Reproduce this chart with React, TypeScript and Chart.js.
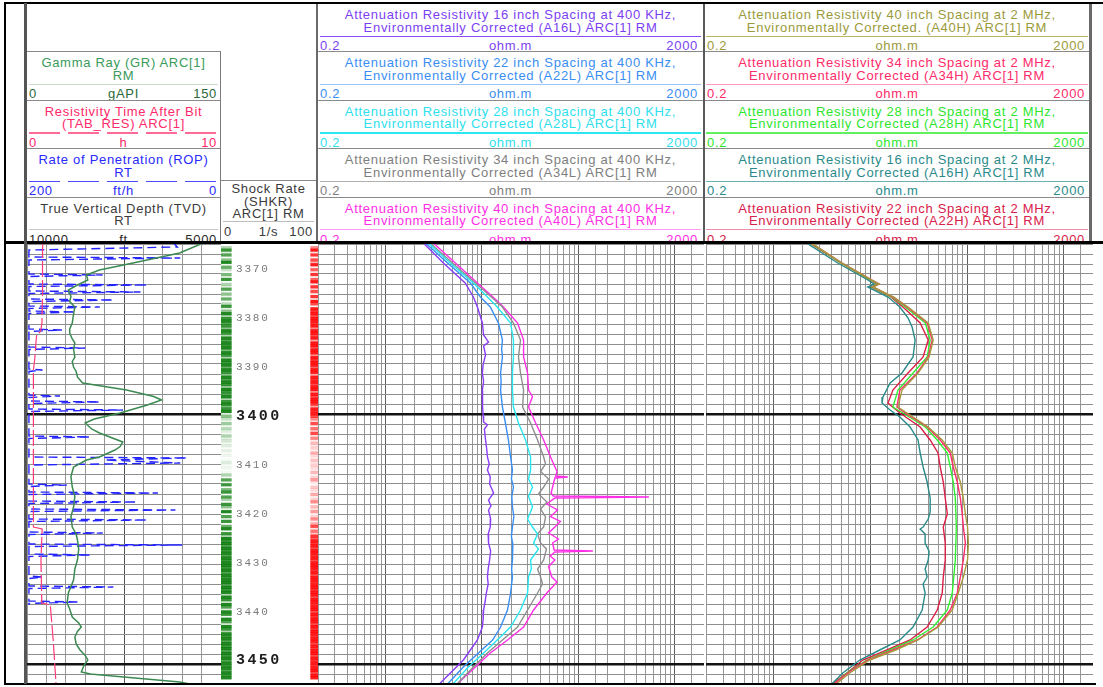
import React, { useEffect, useRef } from "react";
import { Chart, registerables } from "chart.js";
Chart.register(...registerables);

type P = [number, number];

const DEPTH_TOP = 3366;
const DEPTH_BOTTOM = 3454;
const DATA_TOP = 244;
const DATA_HEIGHT = 440;
const SANS = '"Liberation Sans", Arial, sans-serif';

// ---------- depth labels ----------
const depthLabels = [3370, 3380, 3390, 3400, 3410, 3420, 3430, 3440, 3450];

// ---------- Track 1 ----------
const gammaRay: P[] = [
  [3365.6, 138], [3367.8, 118], [3369.8, 82], [3371.2, 56], [3372.2, 46], [3373.2, 47], [3374.2, 39],
  [3375.2, 32], [3376.5, 34], [3377.5, 33], [3378.6, 37], [3380, 36], [3381.8, 35], [3383, 33],
  [3383.8, 33], [3385, 35], [3385.8, 37], [3387, 36], [3388.6, 37], [3389.5, 35], [3390.6, 36],
  [3391.5, 38], [3392.6, 39], [3393.8, 43], [3395.2, 77], [3396.5, 98], [3397.2, 104], [3398.2, 93],
  [3399.8, 72], [3401, 52], [3401.8, 45], [3403, 50], [3403.8, 56], [3405.6, 74], [3406.5, 72],
  [3407.2, 68], [3408.6, 56], [3409.2, 46], [3410.6, 36], [3412.5, 34], [3414.6, 35], [3416.5, 37],
  [3418.6, 36], [3420.5, 34], [3422.6, 35], [3424, 38], [3425.2, 39], [3427, 40], [3429.2, 39],
  [3431, 37], [3433.2, 36], [3435.8, 32], [3437.8, 31], [3439, 33], [3440.6, 35], [3441.8, 40],
  [3442.6, 42], [3443.5, 39], [3444.6, 37], [3446, 38], [3447.2, 41], [3448.3, 45], [3449.2, 47],
  [3450.3, 44], [3451.6, 42], [3452, 49], [3453.6, 118], [3454.2, 130],
];

const tabRes: P[] = [
  [3365.6, 0.82], [3367.2, 0.8], [3376, 0.8], [3381.8, 0.77], [3383.5, 0.7], [3384.2, 0.5],
  [3386.2, 0.45], [3389, 0.4], [3391.2, 0.33], [3410, 0.33], [3422.6, 0.33], [3423, 0.78],
  [3429.2, 0.72], [3437.2, 0.76], [3437.8, 0.76], [3438.2, 1.2], [3445.2, 1.35], [3454.2, 1.5],
];

const rop: P[] = [
  [3365.6, 50], [3366.6, 45], [3367.2, 198], [3368.6, 198], [3368.8, 42], [3369.2, 198],
  [3372.0, 198], [3372.2, 122], [3372.5, 198], [3374.0, 198], [3374.2, 76], [3374.5, 198],
  [3375.4, 198], [3375.6, 83], [3375.9, 198], [3377.0, 198], [3377.2, 111], [3377.5, 198],
  [3378.4, 198], [3378.6, 125], [3378.9, 198], [3379.4, 198], [3379.6, 150], [3379.9, 198],
  [3383.0, 198], [3383.2, 164], [3383.5, 198], [3386.6, 198], [3386.8, 140], [3387.1, 198],
  [3391.0, 198], [3391.2, 184], [3391.5, 198], [3396.2, 198], [3396.4, 166], [3396.7, 198],
  [3397.4, 198], [3397.6, 125], [3397.9, 198], [3399.0, 198], [3399.2, 101], [3399.5, 198],
  [3404.4, 198], [3404.6, 135], [3404.9, 198], [3408.6, 198], [3408.8, 35], [3409.2, 120],
  [3409.8, 42], [3410.2, 198], [3414.0, 198], [3414.2, 159], [3414.5, 198], [3415.6, 198],
  [3415.8, 65], [3416.1, 198], [3417.4, 198], [3417.6, 87], [3417.9, 198], [3419.0, 198],
  [3419.2, 47], [3419.5, 198], [3421.0, 198], [3421.2, 76], [3421.5, 198], [3423.6, 198],
  [3423.8, 122], [3424.1, 198], [3426.0, 198], [3426.2, 40], [3426.5, 198], [3428.0, 198],
  [3428.2, 135], [3428.5, 198], [3432.4, 198], [3432.6, 184], [3432.9, 198], [3434.4, 198],
  [3434.6, 111], [3434.9, 198], [3437.4, 198], [3437.6, 148], [3437.9, 198], [3438.2, 198],
];

// ---------- image strips (0.5 ft samples from 3365.75) ----------
const stripTop = 3365.75;
const shockRate = [
  60, 90, 40, 85, 20, 70, 95, 30, 80, 50, 20, 75, 35, 90, 15, 60, 40, 85, 25, 70,
  30, 80, 20, 55, 90, 35, 70, 95, 60, 90, 95, 85, 90, 70, 95, 90, 60, 95, 85, 95,
  90, 95, 75, 95, 90, 60, 95, 90, 95, 80, 95, 90, 70, 95, 85, 95, 90, 65, 95, 90,
  85, 95, 60, 90, 95, 75, 90, 95, 40, 70, 50, 30, 65, 25, 55, 40, 20, 60, 35, 45,
  25, 40, 15, 35, 20, 30, 10, 25, 40, 20, 30, 15, 25, 60, 20, 85, 30, 90, 20, 75,
  90, 25, 85, 60, 20, 90, 70, 30, 95, 25, 85, 40, 90, 20, 80, 95, 30, 90, 60, 95,
  90, 95, 85, 95, 90, 95, 85, 95, 90, 95, 95, 90, 95, 85, 95, 90, 95, 95, 85, 95,
  90, 95, 60, 95, 90, 50, 95, 85, 40, 95, 90, 30, 95, 85, 45, 95, 90, 60, 95, 90,
  95, 85, 95, 90, 95, 85, 95, 90, 95, 85, 95, 90, 95, 85, 95, 90, 95,
];
const redStrip = [
  70, 95, 40, 90, 20, 85, 60, 95, 30, 80, 40, 90, 25, 80, 95, 35, 90, 50, 85, 30,
  90, 40, 95, 85, 30, 95, 90, 95, 85, 95, 95, 90, 95, 70, 95, 95, 85, 95, 60, 95,
  95, 85, 95, 95, 70, 95, 90, 95, 95, 80, 95, 95, 60, 95, 90, 95, 85, 95, 95, 70,
  95, 85, 95, 95, 90, 60, 95, 90, 95, 85, 70, 45, 85, 30, 75, 50, 85, 40, 70, 30,
  55, 35, 45, 25, 60, 40, 30, 50, 35, 45, 40, 30, 55, 25, 45, 65, 35, 20, 50, 40,
  30, 60, 25, 45, 70, 20, 55, 35, 65, 25, 45, 70, 30, 60, 85, 40, 75, 50, 90, 80,
  95, 90, 95, 85, 95, 95, 90, 95, 85, 95, 95, 95, 90, 95, 85, 95, 95, 90, 95, 95,
  90, 95, 95, 85, 95, 95, 90, 95, 95, 85, 95, 90, 95, 95, 85, 95, 90, 95, 95, 90,
  95, 95, 85, 95, 90, 95, 95, 85, 95, 90, 95, 90, 95, 95, 85, 95, 95,
];

// ---------- Track 3 (400 kHz) ----------
const a16L: P[] = [
  [3365.8, 2.47], [3369.8, 3.98], [3373.8, 6.7], [3376.6, 8.15], [3378.6, 8.97], [3381.8, 10.1],
  [3384.2, 10.4], [3385.6, 11.7], [3386.4, 10.4], [3388.2, 10.9], [3390, 10.3], [3391.8, 10.1],
  [3393.5, 10.4], [3395.2, 10.1], [3397, 10.2], [3398.6, 10.1], [3400.4, 10.3], [3401.6, 10.4],
  [3402.2, 11.4], [3403, 10.6], [3405.2, 10.9], [3407, 11.2], [3408.6, 11.4], [3410, 11.9],
  [3411.2, 11.4], [3412.6, 12.2], [3414, 12.0], [3415.8, 13.2], [3417.2, 11.7], [3418.4, 12.4],
  [3419.2, 11.7], [3421, 12.3], [3422.6, 12.2], [3424, 11.6], [3425.8, 11.7], [3427.4, 12.3],
  [3429.2, 12.0], [3431, 11.6], [3432.6, 11.4], [3434, 11.6], [3435.8, 11.1], [3437.5, 10.8],
  [3439.2, 10.4], [3441, 10.3], [3442.6, 10.1], [3445.2, 8.97], [3447.2, 7.59], [3449.2, 6.42],
  [3451.2, 5.06], [3453.2, 3.98], [3454.2, 3.53],
];
const a22L: P[] = [
  [3365.8, 2.6], [3369.8, 4.4], [3373.8, 7.59], [3376.6, 9.64], [3378.6, 12.2], [3381.8, 14.8],
  [3385.2, 16.3], [3387, 16.0], [3388.6, 16.3], [3391.8, 15.6], [3393.5, 15.8], [3395.2, 15.6],
  [3398.6, 16.3], [3401.8, 17.5], [3405.2, 18.8], [3408.6, 19.8], [3411.2, 20.7], [3413, 20.2],
  [3414.6, 21.2], [3416.5, 20.4], [3418.6, 20.7], [3420.5, 21.4], [3422.6, 20.7], [3424.5, 20.2],
  [3426, 20.9], [3429.2, 20.7], [3431, 20.3], [3432.6, 20.7], [3435.8, 19.8], [3439.2, 18.4],
  [3442.6, 15.6], [3445.2, 12.9], [3447.8, 9.19], [3450.6, 6.42], [3454.2, 4.3],
];
const a28L: P[] = [
  [3365.8, 2.78], [3369.8, 4.7], [3373.8, 8.15], [3376.6, 11.4], [3378.6, 14.4], [3381.8, 19.8],
  [3385.2, 21.2], [3388.6, 21.2], [3391.8, 20.7], [3395.2, 20.7], [3398.6, 21.2], [3401.8, 23.9],
  [3405.2, 28.3], [3408.6, 31.9], [3411.2, 31.9], [3413, 30.4], [3414.6, 33.4], [3416.5, 30.4],
  [3418.6, 33.4], [3421, 29.7], [3422.6, 33.4], [3424, 37.7], [3425.8, 34.3], [3427, 38.6],
  [3429.2, 31.9], [3431, 32.5], [3432.6, 30.4], [3435.8, 29.7], [3439.2, 25.1], [3442.6, 19.8],
  [3445.2, 14.4], [3447.8, 10.4], [3450.6, 7.23], [3454.2, 4.9],
];
const a34L: P[] = [
  [3365.8, 2.9], [3369.8, 4.95], [3373.8, 8.55], [3376.6, 12.5], [3378.6, 16.3], [3381.8, 21.2],
  [3385.2, 25.1], [3388.6, 23.9], [3391.8, 25.1], [3395.2, 27], [3398.6, 26.4], [3401.8, 31.9],
  [3405.2, 37.7], [3408.6, 43.6], [3410, 45.6], [3411.5, 40.5], [3413, 49.1], [3414.6, 43.6],
  [3416, 38.6], [3417.6, 47.2], [3419, 40.5], [3420.6, 45.6], [3422.6, 43.6], [3424, 37.7],
  [3425.8, 40.5], [3427, 46.6], [3429.2, 43.6], [3431, 37.7], [3432.6, 40.5], [3434, 42.4],
  [3435.8, 37.7], [3439.2, 29.7], [3442.6, 23.4], [3445.2, 16.3], [3447.8, 11.4], [3450.6, 8.15],
  [3454.2, 5.4],
];
const a40L: P[] = [
  [3365.8, 3.13], [3369.8, 5.3], [3373.8, 8.97], [3376.6, 13], [3378.6, 16.7], [3381.8, 23.4],
  [3385.2, 27], [3388.6, 27], [3391.8, 29.7], [3395.2, 30.4], [3396.5, 33.4], [3398.6, 30.4],
  [3401.8, 36], [3405.2, 43.6], [3408.6, 51.4], [3410, 55.3], [3411.5, 60], [3412.4, 58],
  [3412.6, 77.5], [3412.8, 57], [3414.6, 54], [3415.8, 52], [3416.4, 55], [3416.6, 537],
  [3416.8, 57], [3418, 47], [3419.2, 60.6], [3420.5, 51.4], [3421.5, 65], [3422.6, 57],
  [3423.8, 49], [3425, 62], [3425.8, 54], [3427.2, 56], [3427.4, 141], [3427.6, 57], [3428.4, 51],
  [3429.2, 57], [3430.5, 49], [3432.6, 53], [3433.6, 60], [3435.8, 47], [3439.2, 34.3],
  [3442.6, 27], [3445.2, 18.4], [3447.8, 12.2], [3450.6, 8.55], [3454.2, 5.4],
];

// ---------- Track 4 (2 MHz) ----------
const a16H: P[] = [
  [3365.8, 2.19], [3369.8, 4.6], [3373.2, 9.4], [3374, 10.9], [3374.6, 9.4], [3376.6, 15.2],
  [3378.6, 20.2], [3380.8, 24.5], [3382.6, 27], [3385.2, 29], [3388.6, 27.6], [3391.8, 21.2],
  [3393.8, 16], [3396.6, 13.5], [3397.8, 13.2], [3399.2, 16], [3400.6, 20.2], [3402.6, 25.7],
  [3405.2, 31.1], [3407.8, 32.7], [3410.6, 35.1], [3413.6, 38.6], [3416.8, 41.5], [3419.6, 41.5],
  [3421, 39.6], [3422.6, 35.1], [3423, 32.7], [3424, 36.8], [3425.8, 36.8], [3427.5, 40.5],
  [3429.2, 39.6], [3431, 36.8], [3432.6, 38.6], [3434, 35.1], [3435.8, 36.8], [3439.2, 34.3],
  [3442.6, 27.6], [3445.2, 20.2], [3447.2, 12.5], [3449.2, 7.78], [3451.8, 5.18], [3454.2, 3.9],
];
const a22H: P[] = [
  [3365.8, 2.35], [3369.8, 4.95], [3373.2, 9.9], [3374, 11.7], [3374.6, 10.2], [3376.6, 16.3],
  [3378.6, 21.7], [3381.8, 32.7], [3385.2, 39.6], [3388.6, 35.1], [3391.8, 24.5], [3395.2, 17.1],
  [3397.8, 15.2], [3399.8, 20.2], [3402.6, 32.7], [3405.2, 41.5], [3407.8, 50], [3410.6, 52.7],
  [3413.6, 56.7], [3416.8, 59.4], [3420, 62.4], [3422.6, 56.7], [3425.8, 59.4], [3429.2, 59.4],
  [3432.6, 56.7], [3435.8, 55.3], [3439.2, 49.1], [3442.6, 38.6], [3445.2, 25.7], [3447.2, 14.8],
  [3449.2, 8.36], [3451.8, 5.7], [3454.2, 3.9],
];
const a28H: P[] = [
  [3365.8, 2.4], [3369.8, 5.0], [3373.2, 10.1], [3374, 12], [3374.6, 10.4], [3376.6, 16.7],
  [3378.6, 22.9], [3381.8, 37], [3385.2, 41.5], [3388.6, 38.6], [3391.8, 27.6], [3395.2, 19.3],
  [3398.6, 17.1], [3399.8, 21.7], [3402.6, 37], [3405.2, 49.1], [3407.8, 62.4], [3410.6, 67],
  [3413.6, 71.9], [3416.8, 75.5], [3422.6, 77.3], [3429.2, 75.5], [3435.8, 70.2], [3439.2, 62.4],
  [3442.6, 44.6], [3445.2, 27.6], [3447.2, 15.9], [3449.2, 9.19], [3451.8, 5.7], [3454.2, 4.1],
];
const a34H: P[] = [
  [3365.8, 2.45], [3369.8, 5.1], [3373.2, 10.4], [3374, 12.3], [3374.6, 10.6], [3376.6, 17.1],
  [3378.6, 23.9], [3381.8, 38.6], [3385.2, 43.6], [3388.6, 39.6], [3391.8, 30.4], [3395.2, 20.2],
  [3398.6, 18.8], [3399.8, 22.9], [3402.6, 38.6], [3405.2, 52.7], [3407.8, 67], [3410.6, 71.9],
  [3413.6, 79.1], [3416.8, 85.1], [3420, 89], [3422.6, 91.4], [3425.8, 95.9], [3429.2, 91.4],
  [3432.6, 85.1], [3435.8, 79.1], [3439.2, 67], [3442.6, 49.1], [3445.2, 30.4], [3447.2, 17.1],
  [3449.2, 9.42], [3451.8, 5.83], [3454.2, 4.1],
];
const a40H: P[] = [
  [3365.8, 2.45], [3369.8, 5.1], [3373.2, 10.4], [3374, 12.3], [3374.6, 10.6], [3376.6, 17.5],
  [3378.6, 24.5], [3381.8, 39.6], [3385.2, 44.6], [3388.6, 40.5], [3391.8, 31.1], [3395.2, 21.2],
  [3398.6, 19.3], [3399.8, 23.9], [3402.6, 39.6], [3405.2, 55.3], [3407.8, 70.2], [3410.6, 75.5],
  [3413.6, 85.1], [3416.8, 91.4], [3420, 95.9], [3422.6, 101], [3425.8, 103], [3429.2, 101],
  [3432.6, 91.4], [3435.8, 81.1], [3439.2, 70.2], [3442.6, 50.2], [3445.2, 31.1], [3447.2, 18.3],
  [3449.2, 9.88], [3451.8, 6.12], [3454.2, 4.3],
];

// ---------- header texts ----------
const track3Headers = [
  { color: "#7b3ff2", line: "#8a4af5", name: "A16L", lines: ["Attenuation Resistivity 16 inch Spacing at 400 KHz,", "Environmentally Corrected (A16L) ARC[1] RM"] },
  { color: "#3a8ef2", line: "#9cc6f7", name: "A22L", lines: ["Attenuation Resistivity 22 inch Spacing at 400 KHz,", "Environmentally Corrected (A22L) ARC[1] RM"] },
  { color: "#2ee0ee", line: "#2ee6f0", name: "A28L", lines: ["Attenuation Resistivity 28 inch Spacing at 400 KHz,", "Environmentally Corrected (A28L) ARC[1] RM"] },
  { color: "#7e7e7e", line: "#b0b0b0", name: "A34L", lines: ["Attenuation Resistivity 34 inch Spacing at 400 KHz,", "Environmentally Corrected (A34L) ARC[1] RM"] },
  { color: "#ff2ee6", line: "#ff9cf2", name: "A40L", lines: ["Attenuation Resistivity 40 inch Spacing at 400 KHz,", "Environmentally Corrected (A40L) ARC[1] RM"] },
];
const track4Headers = [
  { color: "#9a9a3a", line: "#b8b860", name: "A40H", lines: ["Attenuation Resistivity 40 inch Spacing at 2 MHz,", "Environmentally Corrected. (A40H) ARC[1] RM"] },
  { color: "#ff2a6a", line: "#ff9ab8", name: "A34H", lines: ["Attenuation Resistivity 34 inch Spacing at 2 MHz,", "Environmentally Corrected (A34H) ARC[1] RM"] },
  { color: "#2ee62e", line: "#60f060", name: "A28H", lines: ["Attenuation Resistivity 28 inch Spacing at 2 MHz,", "Environmentally Corrected (A28H) ARC[1] RM"] },
  { color: "#2a8a8a", line: "#6ab0b0", name: "A16H", lines: ["Attenuation Resistivity 16 inch Spacing at 2 MHz,", "Environmentally Corrected (A16H) ARC[1] RM"] },
  { color: "#d8204a", line: "#f090a8", name: "A22H", lines: ["Attenuation Resistivity 22 inch Spacing at 2 MHz,", "Environmentally Corrected (A22H) ARC[1] RM"] },
];
const track1Headers = [
  { color: "#3a9a5a", scaleColor: "#2a6a3a", line: "#c8dcc8", dash: false, lines: ["Gamma Ray (GR) ARC[1]", "RM"], lo: "0", unit: "gAPI", hi: "150" },
  { color: "#ff2a6a", scaleColor: "#ff2a6a", line: "#ff6a96", dash: true, lines: ["Resistivity Time After Bit", "(TAB_RES) ARC[1]"], lo: "0", unit: "h", hi: "10" },
  { color: "#2a2aff", scaleColor: "#2a2aff", line: "#4a4aff", dash: true, lines: ["Rate of Penetration (ROP)", "RT"], lo: "200", unit: "ft/h", hi: "0" },
  { color: "#3a3a3a", scaleColor: "#2a2a2a", line: "#c8c8c8", dash: false, lines: ["True Vertical Depth (TVD)", "RT"], lo: "10000", unit: "ft", hi: "5000" },
];
const shockHeader = { color: "#3a3a3a", lines: ["Shock Rate", "(SHKR)", "ARC[1] RM"], lo: "0", unit: "1/s", hi: "100" };

const track3Colors = ["#8a3df5", "#3a8ff2", "#28e6f0", "#8e8e8e", "#ff2ee6"];
const track4Colors = ["#a89a40", "#ff2a6a", "#30f030", "#2a8a8a", "#dc1e46"];

// ---------- chart helpers ----------
const toXY = (pts: P[]) => pts.map(([d, v]) => ({ x: v, y: d }));

const depthAxis = (grid: boolean) => ({
  type: "linear",
  reverse: true,
  min: DEPTH_TOP,
  max: DEPTH_BOTTOM,
  afterFit: (s: any) => { s.width = 0; },
  border: { display: false },
  ticks: { display: false, stepSize: 2, includeBounds: false },
  grid: grid
    ? {
        drawTicks: false,
        color: (c: any) => (c.tick && c.tick.value % 50 === 0 ? "#141414" : "#8e8e8e"),
        lineWidth: (c: any) => (c.tick && c.tick.value % 50 === 0 ? 2.5 : 1),
      }
    : { display: false },
});

const baseOptions = (scales: any) => ({
  responsive: false,
  animation: false,
  events: [],
  indexAxis: "y",
  layout: { padding: 0 },
  plugins: { legend: { display: false }, tooltip: { enabled: false }, title: { display: false } },
  scales,
});

const lineDs = (pts: P[], color: string, xAxisID: string, extra: any = {}) => ({
  data: toXY(pts),
  borderColor: color,
  borderWidth: 1.4,
  pointRadius: 0,
  fill: false,
  tension: 0,
  xAxisID,
  yAxisID: "y",
  ...extra,
});

const isDecade = (v: number) => Math.abs(Math.log10(v) - Math.round(Math.log10(v))) < 1e-6;

const logAxis = () => ({
  type: "logarithmic",
  min: 0.2,
  max: 2000,
  afterFit: (s: any) => { s.height = 0; },
  border: { display: false },
  ticks: { display: false, autoSkip: false },
  grid: {
    drawTicks: false,
    color: (c: any) => (c.tick && isDecade(c.tick.value) ? "#5e5e5e" : "#969696"),
    lineWidth: 1,
  },
});

function ChartCanvas({ left, width, build }: { left: number; width: number; build: () => any }) {
  const ref = useRef<HTMLCanvasElement>(null);
  useEffect(() => {
    const chart = new Chart(ref.current as HTMLCanvasElement, build());
    return () => chart.destroy();
  }, []);
  return (
    <canvas
      ref={ref}
      width={width}
      height={DATA_HEIGHT}
      style={{ position: "absolute", left, top: DATA_TOP, width, height: DATA_HEIGHT }}
    />
  );
}

// ---------- chart configs ----------
const buildTrack1 = () => ({
  type: "line",
  data: {
    datasets: [
      lineDs(gammaRay, "#3c8a52", "x", { borderWidth: 1.5 }),
      lineDs(tabRes, "#ff3c78", "xTab", { borderWidth: 1.2, borderDash: [16, 3] }),
      lineDs(rop, "#2424ff", "xRop", { borderWidth: 1.4, borderDash: [9, 5] }),
    ],
  },
  options: baseOptions({
    x: {
      type: "linear",
      min: 0,
      max: 150,
      afterFit: (s: any) => { s.height = 0; },
      border: { display: false },
      ticks: { display: false, stepSize: 15 },
      grid: { drawTicks: false, color: (c: any) => (c.tick && c.tick.value === 75 ? "#555555" : "#969696") },
    },
    xTab: { type: "linear", min: 0, max: 10, display: false },
    xRop: { type: "linear", min: 0, max: 200, reverse: true, display: false },
    y: depthAxis(true),
  }),
});

const depthLabelPlugin = {
  id: "depthLabels",
  afterDatasetsDraw(chart: any) {
    const { ctx, scales } = chart;
    const y = scales.y;
    ctx.save();
    ctx.textBaseline = "middle";
    ctx.textAlign = "left";
    for (const d of depthLabels) {
      const big = d % 50 === 0;
      ctx.font = big ? 'bold 15px "Liberation Mono", monospace' : '11px "Liberation Mono", monospace';
      (ctx as any).letterSpacing = big ? "2.4px" : "1.8px";
      ctx.fillStyle = big ? "#1e1e1e" : "#7a7a7a";
      ctx.fillText(String(d), 15, y.getPixelForValue(d) + 1);
    }
    ctx.restore();
  },
};

const stripDepth = (i: number) => stripTop + i * 0.5;
const stripAlpha = (v: number) => Math.pow(v / 100, 2.2).toFixed(3);

const buildDepthTrack = () => ({
  type: "bar",
  data: {
    datasets: [
      {
        data: shockRate.map((v, i) => ({ x: [0, 10.5], y: stripDepth(i) })),
        backgroundColor: shockRate.map((v) => `rgba(8,122,8,${stripAlpha(v)})`),
        borderWidth: 0,
        barThickness: 2.5,
        grouped: false,
        xAxisID: "x",
        yAxisID: "y",
      },
      {
        data: redStrip.map((v, i) => ({ x: [91.5, 100], y: stripDepth(i) })),
        backgroundColor: redStrip.map((v) => `rgba(255,0,0,${stripAlpha(v)})`),
        borderWidth: 0,
        barThickness: 2.5,
        grouped: false,
        xAxisID: "x",
        yAxisID: "y",
      },
    ],
  },
  options: baseOptions({
    x: { type: "linear", min: 0, max: 100, display: false },
    y: depthAxis(false),
  }),
  plugins: [depthLabelPlugin],
});

const buildLogTrack = (series: P[][], colors: string[]) => () => ({
  type: "line",
  data: { datasets: series.map((s, i) => lineDs(s, colors[i], "x")) },
  options: baseOptions({ x: logAxis(), y: depthAxis(true) }),
});

// ---------- header ----------
const abs = (s: any) => ({ position: "absolute", ...s });

function HeaderBox(props: any) {
  const { x, y, w, color, scaleColor, line, dash, lines, lo, unit, hi, t0 = 12, ls = 32.5, sc = 43, divider = true, padL = 3, padR = 5 } = props;
  const txt = { font: `13px ${SANS}`, letterSpacing: "0.7px", lineHeight: "14px", whiteSpace: "nowrap" };
  const sColor = scaleColor || color;
  return (
    <>
      {divider && <div style={abs({ left: x, top: y, width: w, height: 1, background: "#8a8a8a" })} />}
      {lines.map((t: string, i: number) => (
        <div key={i} style={abs({ ...txt, left: x, width: w, top: y + t0 - 7 + i * 12.5, textAlign: "center", color })}>
          {t}
        </div>
      ))}
      <div
        style={abs({
          left: x + 2,
          width: w - 4,
          top: y + ls,
          height: 1.3,
          background: dash ? `repeating-linear-gradient(to right, ${line} 0 31px, transparent 31px 39px)` : line,
        })}
      />
      <div style={abs({ ...txt, left: x + padL, top: y + sc - 7, color: sColor })}>{lo}</div>
      <div style={abs({ ...txt, left: x, width: w, top: y + sc - 7, textAlign: "center", color: sColor })}>{unit}</div>
      <div style={abs({ ...txt, left: x, width: w - padR, top: y + sc - 7, textAlign: "right", color: sColor })}>{hi}</div>
    </>
  );
}

const PITCH = 48.4;

export default function App() {
  return (
    <div style={{ position: "fixed", left: 0, top: 0, width: 1103, height: 687, background: "#fff", overflow: "hidden" }}>
      {/* header boxes */}
      <div style={abs({ left: 0, top: 0, width: 1103, height: 242, overflow: "hidden" })}>
        {track3Headers.map((h, k) => (
          <HeaderBox key={h.name} x={318} y={3 + PITCH * k} w={385} color={h.color} line={h.line} lines={h.lines}
            lo="0.2" unit="ohm.m" hi="2000" divider={k > 0} padL={2} />
        ))}
        {track4Headers.map((h, k) => (
          <HeaderBox key={h.name} x={704} y={3 + PITCH * k} w={386} color={h.color} line={h.line} lines={h.lines}
            lo="0.2" unit="ohm.m" hi="2000" divider={k > 0} padL={3} />
        ))}
        {track1Headers.map((h, k) => (
          <HeaderBox key={k} x={27} y={3 + PITCH * (k + 1)} w={193} color={h.color} scaleColor={h.scaleColor}
            line={h.line} dash={h.dash} lines={h.lines} lo={h.lo} unit={h.unit} hi={h.hi} padL={2} padR={3} />
        ))}
        <HeaderBox x={221} y={180} w={95} color={shockHeader.color} line="#bdbdbd" lines={shockHeader.lines}
          lo={shockHeader.lo} unit={shockHeader.unit} hi={shockHeader.hi} t0={9} ls={41} sc={52} padL={3} padR={3} />
        {/* header vertical separators */}
        <div style={abs({ left: 220, top: 51, width: 1, height: 191, background: "#7a7a7a" })} />
        <div style={abs({ left: 316, top: 3, width: 2, height: 239, background: "#6a6a6a" })} />
        <div style={abs({ left: 703, top: 3, width: 1.5, height: 239, background: "#5a5a5a" })} />
        <div style={abs({ left: 1089, top: 3, width: 3, height: 239, background: "#6a6a6a" })} />
      </div>

      {/* data tracks */}
      <ChartCanvas left={27} width={194} build={buildTrack1} />
      <ChartCanvas left={221} width={98} build={buildDepthTrack} />
      <ChartCanvas left={318} width={386} build={buildLogTrack([a16L, a22L, a28L, a34L, a40L], track3Colors)} />
      <ChartCanvas left={706} width={387} build={buildLogTrack([a40H, a34H, a28H, a16H, a22H], track4Colors)} />

      {/* frame */}
      <div style={abs({ left: 4, top: 2, width: 1099, height: 2, background: "#000" })} />
      <div style={abs({ left: 4, top: 241, width: 1099, height: 2.5, background: "#000" })} />
      <div style={abs({ left: 4, top: 683, width: 1092, height: 2, background: "#000" })} />
      <div style={abs({ left: 4, top: 2, width: 2, height: 683, background: "#000" })} />
      <div style={abs({ left: 24, top: 3, width: 3, height: 681, background: "#555" })} />
    </div>
  );
}
